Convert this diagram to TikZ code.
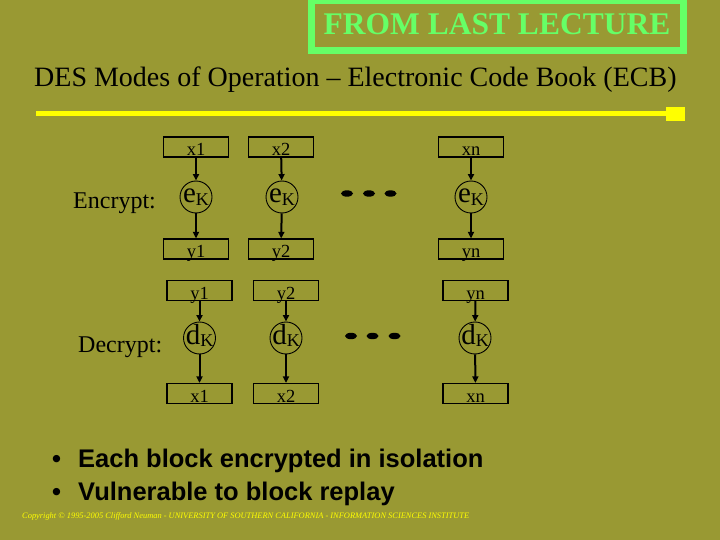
\documentclass[tikz,border=0pt]{standalone}
\usepackage{fontspec}
\setmainfont{Liberation Serif}
\newfontfamily\arialfont{Liberation Sans}
\usetikzlibrary{arrows.meta}
\definecolor{bgolive}{HTML}{999933}
\definecolor{titlegreen}{HTML}{66FF66}
\definecolor{lineyellow}{HTML}{FFFF00}
\tikzset{
  blk/.style={draw=black, line width=1.2pt, minimum width=65pt, minimum height=20pt,
    inner sep=0pt, text height=17pt, text depth=0pt, font=\fontsize{18.5}{18.5}\selectfont},
  fn/.style={draw=black, line width=0.9pt, circle, minimum size=32pt, inner sep=0pt,
    text height=12pt, text depth=0pt},
  arr/.style={draw=black, line width=2pt, -{Triangle[length=6.5pt,width=6pt]}},
  lbl/.style={anchor=base west, inner sep=0pt, font=\fontsize{24}{24}\selectfont},
  bul/.style={anchor=base west, inner sep=0pt, font=\arialfont\bfseries\fontsize{25.5}{25.5}\selectfont},
  dashdot/.style={fill=black}
}
\newcommand{\ek}{{\fontsize{29}{29}\selectfont e}\raisebox{-0.26em}{\fontsize{18}{18}\selectfont K}}
\newcommand{\dk}{{\fontsize{29}{29}\selectfont d}\raisebox{-0.26em}{\fontsize{18}{18}\selectfont K}}
\begin{document}
\begin{tikzpicture}[x=1pt,y=-1pt]
\fill[bgolive] (0,0) rectangle (720,540);
\useasboundingbox (0,0) rectangle (720,540);

% title box
\node[draw=titlegreen, line width=7pt, minimum width=372pt, minimum height=50pt, inner sep=0pt,
  text=titlegreen, text height=22pt, text depth=4pt, font=\bfseries\fontsize{31.5}{31.5}\selectfont]
  (last) at (497,26) {FROM LAST LECTURE};

\node[anchor=base west, inner sep=0pt, font=\fontsize{28}{28}\selectfont] (title) at (34,87)
  {DES Modes of Operation -- Electronic Code Book (ECB)};

\draw[lineyellow, line width=5pt] (36,114) -- (668,114);
\fill[lineyellow] (666,107) rectangle (685,121);

% encrypt
\node[lbl] (enc) at (73,209) {Encrypt:};
\node[blk] (ex1) at (196,147) {x1};
\node[blk] (ex2) at (281,147) {x2};
\node[blk] (exn) at (471,147) {xn};
\node[fn] (ek1) at (196,197) {\ek};
\node[fn] (ek2) at (282,197) {\ek};
\node[fn] (ekn) at (471,197) {\ek};
\node[blk] (ey1) at (196,249) {y1};
\node[blk] (ey2) at (281,249) {y2};
\node[blk] (eyn) at (471,249) {yn};
\foreach \c in {1,2,n}{
  \draw[arr] (ex\c) -- (ek\c);
  \draw[arr] (ek\c) -- (ey\c);
}
\foreach \x in {347,369,390.5}{\fill[dashdot] (\x,193.5) ellipse (6pt and 3.2pt);}

% decrypt
\node[lbl] (dec) at (78,352) {Decrypt:};
\node[blk] (dy1) at (199.5,290.5) {y1};
\node[blk] (dy2) at (286,290.5) {y2};
\node[blk] (dyn) at (475.5,290.5) {yn};
\node[fn] (dk1) at (199.5,338) {\dk};
\node[fn] (dk2) at (286,338) {\dk};
\node[fn] (dkn) at (475,338) {\dk};
\node[blk] (dx1) at (199.5,393.5) {x1};
\node[blk] (dx2) at (286,393.5) {x2};
\node[blk] (dxn) at (475.5,393.5) {xn};
\foreach \c in {1,2,n}{
  \draw[arr] (dy\c) -- (dk\c);
  \draw[arr] (dk\c) -- (dx\c);
}
\foreach \x in {351,372.5,394.5}{\fill[dashdot] (\x,336) ellipse (6pt and 3.2pt);}

% bullets
\node[bul] (b1) at (52,467) {•};
\node[bul] (t1) at (78,467) {Each block encrypted in isolation};
\node[bul] (b2) at (52,500) {•};
\node[bul] (t2) at (78,500) {Vulnerable to block replay};

\node[anchor=base west, text=lineyellow, inner sep=0pt, font=\itshape\fontsize{8.4}{8.4}\selectfont] (copy) at (22,518)
  {Copyright © 1995-2005 Clifford Neuman - UNIVERSITY OF SOUTHERN CALIFORNIA - INFORMATION SCIENCES INSTITUTE};
\end{tikzpicture}
\end{document}
